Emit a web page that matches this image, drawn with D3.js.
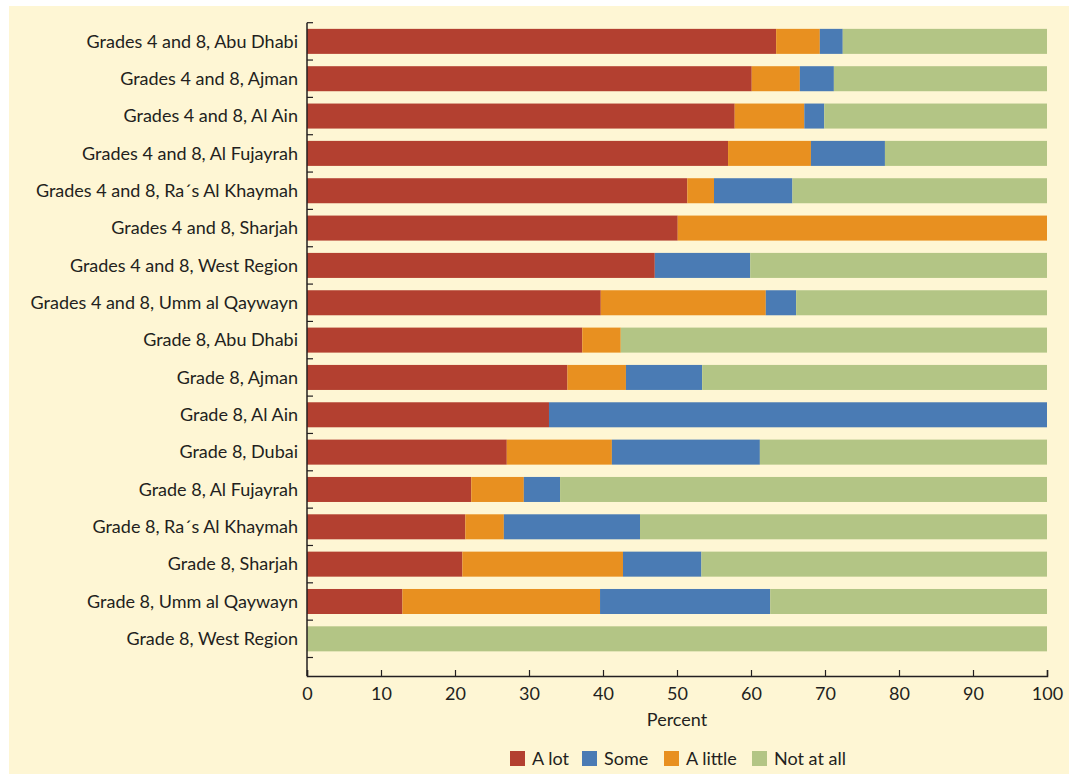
<!DOCTYPE html>
<html><head><meta charset="utf-8">
<script src="https://cdn.jsdelivr.net/npm/d3@7"></script>
<style>
html,body{margin:0;padding:0;background:#ffffff;}
svg{display:block;}
text{font-family:Lato, "Open Sans", sans-serif;fill:#231f20;}
</style></head>
<body>
<svg id="chart" width="1069" height="774"></svg>
<script>
const categories = [
  "Grades 4 and 8, Abu Dhabi",
  "Grades 4 and 8, Ajman",
  "Grades 4 and 8, Al Ain",
  "Grades 4 and 8, Al Fujayrah",
  "Grades 4 and 8, Ra\u00b4s Al Khaymah",
  "Grades 4 and 8, Sharjah",
  "Grades 4 and 8, West Region",
  "Grades 4 and 8, Umm al Qaywayn",
  "Grade 8, Abu Dhabi",
  "Grade 8, Ajman",
  "Grade 8, Al Ain",
  "Grade 8, Dubai",
  "Grade 8, Al Fujayrah",
  "Grade 8, Ra\u00b4s Al Khaymah",
  "Grade 8, Sharjah",
  "Grade 8, Umm al Qaywayn",
  "Grade 8, West Region"
];
const aLot     = [63.4, 60.1, 57.8, 56.9, 51.4, 50.1, 47.0, 39.7, 37.2, 35.2, 32.7, 27.0, 22.2, 21.4, 21.0, 12.9, 0];
const aLittle  = [5.9, 6.5, 9.4, 11.2, 3.6, 49.9, 0, 22.3, 5.2, 7.9, 0, 14.2, 7.1, 5.2, 21.7, 26.7, 0];
const some     = [3.1, 4.6, 2.7, 10.0, 10.6, 0, 12.9, 4.1, 0, 10.3, 67.3, 20.0, 4.9, 18.4, 10.6, 23.0, 0];
const notAtAll = [27.6, 28.8, 30.1, 21.9, 34.4, 0, 40.1, 33.9, 57.6, 46.6, 0, 38.8, 65.8, 55.0, 46.7, 37.4, 100];
const xTicks = [0, 10, 20, 30, 40, 50, 60, 70, 80, 90, 100];
const stackOrder = ["A lot", "A little", "Some", "Not at all"];
const legendOrder = ["A lot", "Some", "A little", "Not at all"];
const colors = {"A lot": "#b34030", "A little": "#e89020", "Some": "#4a7bb4", "Not at all": "#b3c585"};

const rows = categories.map((c, i) => ({cat: c, "A lot": aLot[i], "A little": aLittle[i], "Some": some[i], "Not at all": notAtAll[i]}));

const svg = d3.select("#chart");
svg.append("rect").attr("x", 9).attr("y", 6).attr("width", 1060).attr("height", 768).attr("fill", "#fef6d4");

const x = d3.scaleLinear().domain([0, 100]).range([307, 1047]);
const y = d3.scaleBand().domain(categories).range([22.7, 657.5]).paddingInner(0.33).paddingOuter(0.165);
const axisBottomY = 676;
const fs = 18;

const stack = d3.stack().keys(stackOrder)(rows);
svg.append("g").selectAll("g").data(stack).join("g")
  .attr("fill", d => colors[d.key])
  .selectAll("rect").data(d => d).join("rect")
  .attr("x", d => x(d[0]))
  .attr("width", d => Math.max(0, x(d[1]) - x(d[0])))
  .attr("y", d => y(d.data.cat))
  .attr("height", y.bandwidth());

// y axis
const ax = svg.append("g");
ax.append("line").attr("x1", 307).attr("x2", 307).attr("y1", 22.7).attr("y2", axisBottomY)
  .attr("stroke", "#231f20").attr("stroke-width", 1.5);
const step = y.step();
const bounds = d3.range(categories.length + 1).map(i => 22.7 + i * step);
ax.selectAll("line.yt").data(bounds).join("line").attr("class", "yt")
  .attr("x1", 307).attr("x2", 313).attr("y1", d => d).attr("y2", d => d)
  .attr("stroke", "#231f20").attr("stroke-width", 1.2);
ax.selectAll("text.yl").data(categories).join("text").attr("class", "yl")
  .attr("x", 298).attr("y", d => y(d) + y.bandwidth() / 2)
  .attr("dy", "0.35em").attr("text-anchor", "end").attr("font-size", fs)
  .text(d => d);

// x axis
const bx = svg.append("g").attr("transform", `translate(0,${axisBottomY})`)
  .call(d3.axisBottom(x).tickValues(xTicks).tickSize(-6).tickPadding(11).tickFormat(d3.format("d")));
bx.select(".domain").attr("stroke", "#231f20").attr("stroke-width", 1.5);
bx.selectAll(".tick line").attr("stroke", "#231f20").attr("stroke-width", 1.2);
bx.selectAll(".tick text").attr("font-size", fs).attr("font-family", "Lato, 'Open Sans', sans-serif").attr("fill", "#231f20");

svg.append("text").attr("x", x(50)).attr("y", 726).attr("text-anchor", "middle").attr("font-size", fs).text("Percent");

// legend
const legendX = [510, 582, 664, 752];
const lg = svg.append("g");
legendOrder.forEach((k, i) => {
  lg.append("rect").attr("x", legendX[i]).attr("y", 751).attr("width", 15).attr("height", 15).attr("fill", colors[k]);
  lg.append("text").attr("x", legendX[i] + 22).attr("y", 765).attr("font-size", fs).text(k);
});
</script>
</body></html>
